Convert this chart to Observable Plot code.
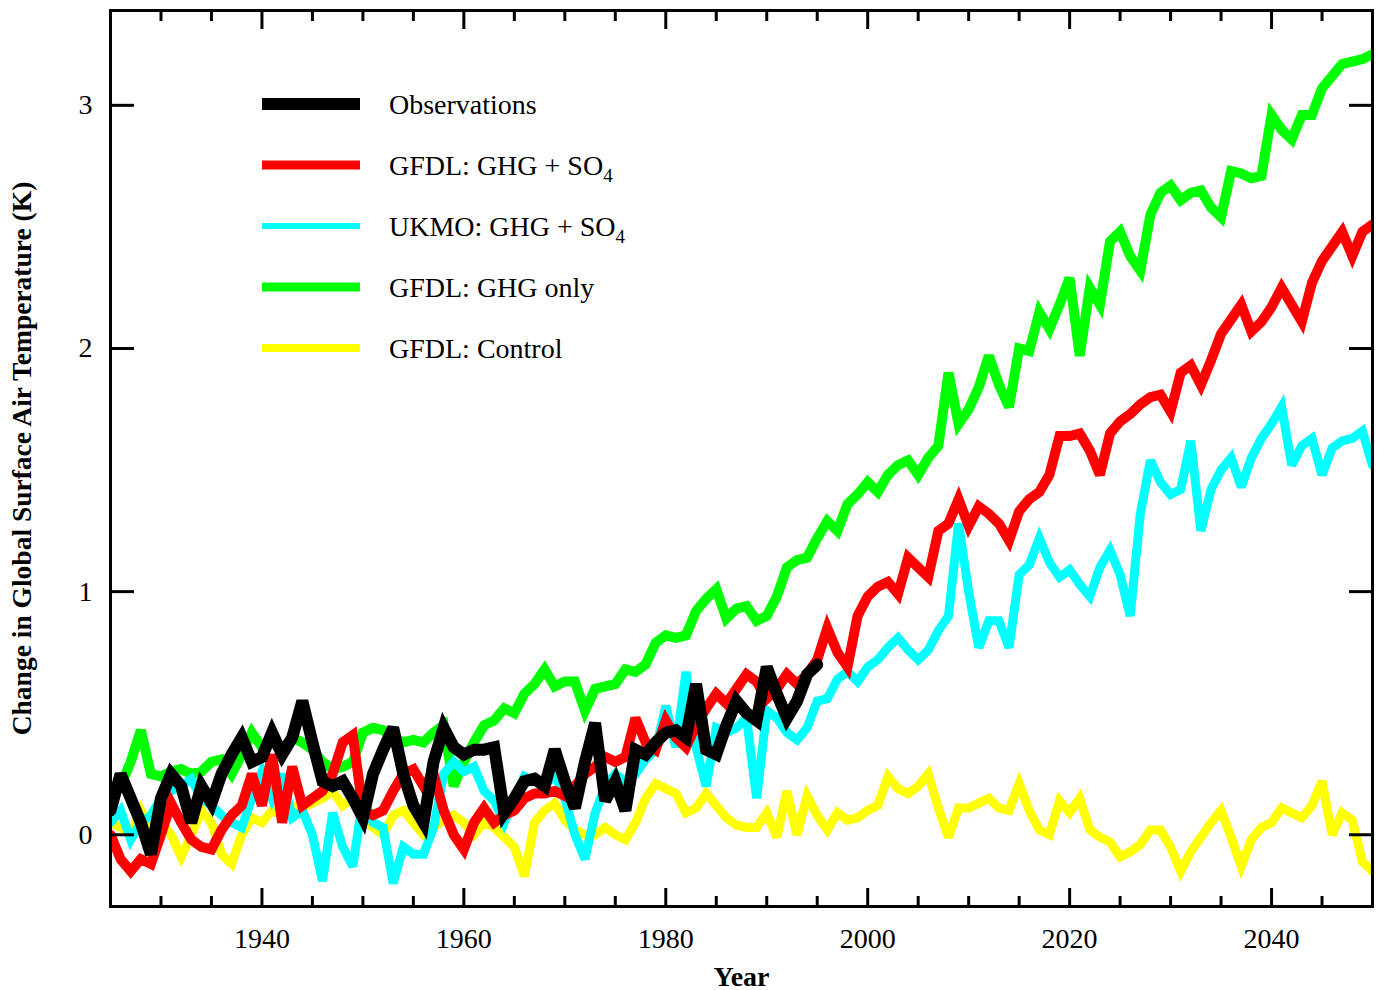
<!DOCTYPE html>
<html>
<head>
<meta charset="utf-8">
<script src="https://cdn.jsdelivr.net/npm/d3@7"></script>
<script src="https://cdn.jsdelivr.net/npm/@observablehq/plot@0.6"></script>
<style>
  html, body { margin: 0; padding: 0; background: #fff; }
</style>
</head>
<body>
<div id="chart"></div>
<script>
// ---------- data ----------
const modelStartYear = 1925;
const obsStartYear = 1925;

const observations = [
  0.10, 0.25, 0.15, 0.05, -0.08, 0.15, 0.25, 0.20, 0.05, 0.20,
  0.13, 0.25, 0.33, 0.40, 0.30, 0.32, 0.42, 0.33, 0.40, 0.55,
  0.38, 0.22, 0.20, 0.22, 0.15, 0.07, 0.25, 0.35, 0.44, 0.25,
  0.12, 0.05, 0.30, 0.44, 0.36, 0.33, 0.35, 0.35, 0.36, 0.09,
  0.15, 0.22, 0.23, 0.20, 0.35, 0.22, 0.11, 0.30, 0.46, 0.14,
  0.22, 0.10, 0.35, 0.33, 0.38, 0.42, 0.43, 0.40, 0.62, 0.35,
  0.33, 0.45, 0.55, 0.50, 0.47, 0.69, 0.58, 0.48, 0.55, 0.66,
  0.70
];

const gfdlGhgOnly = [
  0.15, 0.20, 0.30, 0.43, 0.25, 0.24, 0.26, 0.27, 0.25, 0.26,
  0.30, 0.31, 0.25, 0.33, 0.42, 0.36, 0.38, 0.35, 0.40, 0.38,
  0.35, 0.30, 0.27, 0.28, 0.30, 0.42, 0.44, 0.43, 0.40, 0.38,
  0.39, 0.38, 0.42, 0.45, 0.20, 0.30, 0.38, 0.45, 0.47, 0.52,
  0.50, 0.58, 0.62, 0.68, 0.61, 0.63, 0.63, 0.51, 0.60, 0.61,
  0.62, 0.68, 0.67, 0.70, 0.79, 0.82, 0.81, 0.82, 0.92, 0.97,
  1.01, 0.89, 0.93, 0.94, 0.88, 0.90, 0.98, 1.10, 1.13, 1.14,
  1.22, 1.29, 1.25, 1.36, 1.40, 1.45, 1.41, 1.48, 1.52, 1.54,
  1.48, 1.55, 1.60, 1.90, 1.69, 1.75, 1.84, 1.97, 1.85, 1.76,
  2.00, 1.99, 2.15, 2.08, 2.18, 2.29, 1.97, 2.25, 2.18, 2.44,
  2.48, 2.38, 2.32, 2.55, 2.64, 2.67, 2.61, 2.64, 2.65, 2.58,
  2.54, 2.73, 2.72, 2.70, 2.71, 2.96, 2.90, 2.86, 2.96, 2.96,
  3.07, 3.12, 3.17, 3.18, 3.19, 3.21
];

const gfdlGhgSo4 = [
  0.00, -0.10, -0.15, -0.10, -0.12, 0.00, 0.13, 0.05, -0.02, -0.05,
  -0.06, 0.02, 0.08, 0.12, 0.25, 0.12, 0.33, 0.05, 0.28, 0.12,
  0.15, 0.18, 0.25, 0.38, 0.41, 0.10, 0.08, 0.10, 0.18, 0.25,
  0.27, 0.20, 0.25, 0.10, 0.00, -0.06, 0.05, 0.11, 0.05, 0.08,
  0.10, 0.15, 0.17, 0.17, 0.18, 0.16, 0.20, 0.25, 0.28, 0.32,
  0.30, 0.32, 0.48, 0.38, 0.35, 0.47, 0.40, 0.36, 0.45, 0.52,
  0.58, 0.54, 0.60, 0.66, 0.63, 0.56, 0.60, 0.66, 0.62, 0.66,
  0.72, 0.85, 0.75, 0.69, 0.90, 0.98, 1.02, 1.04, 0.99, 1.14,
  1.10, 1.06, 1.25, 1.28, 1.38, 1.27, 1.35, 1.32, 1.28, 1.21,
  1.33, 1.38, 1.41, 1.48, 1.64, 1.64, 1.65, 1.58, 1.48, 1.65,
  1.70, 1.73, 1.77, 1.80, 1.81, 1.74, 1.90, 1.93, 1.85, 1.95,
  2.06, 2.12, 2.18, 2.07, 2.11, 2.17, 2.25, 2.18, 2.11, 2.27,
  2.36, 2.42, 2.48, 2.38, 2.48, 2.51
];

const ukmoGhgSo4 = [
  0.05, 0.10, -0.02, 0.05, 0.08, 0.15, 0.18, 0.20, 0.23, 0.15,
  0.12, 0.08, 0.05, 0.03, 0.15, 0.26, 0.15, 0.25, 0.07, 0.10,
  0.00, -0.19, 0.09, -0.05, -0.13, 0.15, 0.05, 0.03, -0.20, -0.05,
  -0.08, -0.08, 0.03, 0.25, 0.30, 0.26, 0.28, 0.18, 0.14, 0.05,
  0.15, 0.24, 0.22, 0.20, 0.25, 0.15, 0.00, -0.10, 0.09, 0.20,
  0.25, 0.22, 0.25, 0.31, 0.35, 0.53, 0.36, 0.67, 0.36, 0.20,
  0.44, 0.42, 0.44, 0.48, 0.15, 0.51, 0.48, 0.42, 0.39, 0.44,
  0.55, 0.56, 0.64, 0.67, 0.63, 0.69, 0.72, 0.77, 0.81, 0.76,
  0.72, 0.76, 0.84, 0.90, 1.28, 1.00, 0.77, 0.88, 0.88, 0.77,
  1.07, 1.11, 1.22, 1.12, 1.06, 1.09, 1.03, 0.98, 1.10, 1.17,
  1.07, 0.90, 1.32, 1.54, 1.45, 1.40, 1.42, 1.62, 1.25, 1.42,
  1.50, 1.55, 1.43, 1.55, 1.63, 1.69, 1.76, 1.52, 1.60, 1.63,
  1.48, 1.59, 1.62, 1.63, 1.66, 1.52
];

const gfdlControl = [
  0.05, 0.03, 0.00, 0.10, 0.02, 0.05, 0.00, -0.09, 0.00, 0.10,
  0.05, -0.08, -0.12, 0.00, 0.07, 0.05, 0.10, 0.08, 0.12, 0.11,
  0.13, 0.15, 0.18, 0.12, 0.15, 0.06, 0.03, 0.00, 0.08, 0.10,
  0.05, 0.00, 0.03, 0.06, 0.08, 0.05, 0.00, 0.05, 0.03, -0.01,
  -0.05, -0.17, 0.05, 0.10, 0.13, 0.06, 0.02, 0.00, 0.00, 0.03,
  0.00, -0.02, 0.05, 0.15, 0.21, 0.19, 0.17, 0.09, 0.11, 0.17,
  0.12, 0.07, 0.04, 0.03, 0.03, 0.09, -0.01, 0.18, 0.00, 0.16,
  0.08, 0.02, 0.09, 0.06, 0.07, 0.10, 0.12, 0.24, 0.19, 0.17,
  0.20, 0.25, 0.11, -0.01, 0.11, 0.11, 0.13, 0.15, 0.11, 0.10,
  0.21, 0.10, 0.02, 0.00, 0.14, 0.09, 0.15, 0.02, -0.01, -0.03,
  -0.09, -0.07, -0.04, 0.02, 0.02, -0.05, -0.15, -0.07, -0.01, 0.05,
  0.10, -0.01, -0.13, -0.02, 0.03, 0.05, 0.11, 0.09, 0.07, 0.12,
  0.22, 0.00, 0.09, 0.06, -0.11, -0.15
];

const majorYears = [1940, 1960, 1980, 2000, 2020, 2040];
const minorYears = [1930, 1935, 1945, 1950, 1955, 1965, 1970, 1975, 1985, 1990, 1995,
                    2005, 2010, 2015, 2025, 2030, 2035, 2045];
const yTicks = [0, 1, 2, 3];

const xLabel = "Year";
const yLabel = "Change in Global Surface Air Temperature (K)";

// draw order: bottom first
const series = [
  {name: "GFDL: Control",  sub: "",  color: "#ffff00", width: 9,  legendWidth: 8,  values: gfdlControl,  start: modelStartYear, legendIndex: 4},
  {name: "GFDL: GHG only", sub: "",  color: "#00ff00", width: 10, legendWidth: 9,  values: gfdlGhgOnly,  start: modelStartYear, legendIndex: 3},
  {name: "UKMO: GHG + SO", sub: "4", color: "#00ffff", width: 9,  legendWidth: 6,  values: ukmoGhgSo4,   start: modelStartYear, legendIndex: 2},
  {name: "GFDL: GHG + SO", sub: "4", color: "#ff0000", width: 10, legendWidth: 9,  values: gfdlGhgSo4,   start: modelStartYear, legendIndex: 1},
  {name: "Observations",   sub: "",  color: "#000000", width: 12, legendWidth: 12, values: observations, start: obsStartYear,   legendIndex: 0}
];

const toRows = s => s.values.map((v, i) => ({year: s.start + i, value: v}));

const font = "'Liberation Serif', 'Times New Roman', Times, serif";

const tickAxis = (mk, anchor, ticks, size) =>
  mk({anchor, ticks, tickSize: size, strokeWidth: 3, fill: "none", tickFormat: () => "", label: null});

const chart = Plot.plot({
  width: 1380,
  height: 990,
  marginLeft: 110,
  marginRight: 8,
  marginTop: 10,
  marginBottom: 84,
  style: {fontFamily: font, fontSize: "28px", background: "#fff", color: "#000", overflow: "visible"},
  x: {domain: [1925, 2050]},
  y: {domain: [-0.295, 3.39]},
  marks: [
    ...series.map(s => Plot.line(toRows(s), {
      x: "year", y: "value", stroke: s.color, strokeWidth: s.width,
      strokeLinejoin: "miter", strokeMiterlimit: 3, clip: true
    })),
    Plot.frame({stroke: "#000", strokeWidth: 3}),
    tickAxis(Plot.axisX, "bottom", minorYears, -10),
    tickAxis(Plot.axisX, "bottom", majorYears, -18),
    tickAxis(Plot.axisX, "top", minorYears, -10),
    tickAxis(Plot.axisX, "top", majorYears, -18),
    tickAxis(Plot.axisY, "left", yTicks, -24),
    tickAxis(Plot.axisY, "right", yTicks, -24),
    Plot.axisX({anchor: "bottom", ticks: majorYears, tickSize: 0, tickPadding: 22,
                tickFormat: d => String(d), label: null, fontSize: 28}),
    Plot.axisY({anchor: "left", ticks: yTicks, tickSize: 0, tickPadding: 18,
                tickFormat: d => String(d), label: null, fontSize: 28}),
    Plot.text([xLabel], {frameAnchor: "bottom", dy: 79, lineAnchor: "bottom",
                         textAnchor: "middle", fontWeight: "bold", fontSize: 28}),
    Plot.text([yLabel], {frameAnchor: "left", dx: -88, rotate: -90, textAnchor: "middle",
                         lineAnchor: "middle", fontWeight: "bold", fontSize: 27.5})
  ]
});

// legend inside the plot area
const svg = d3.select(chart);
const lg = svg.append("g")
  .attr("font-family", font).attr("font-size", 28).attr("fill", "#000")
  .attr("text-anchor", "start");
const legendOrder = series.slice().sort((a, b) => a.legendIndex - b.legendIndex);
legendOrder.forEach((s, i) => {
  const yy = 104 + i * 61;
  lg.append("line")
    .attr("x1", 262).attr("x2", 360).attr("y1", yy).attr("y2", yy)
    .attr("stroke", s.color).attr("stroke-width", s.legendWidth);
  const t = lg.append("text").attr("x", 389).attr("y", yy + 10).attr("text-anchor", "start");
  t.append("tspan").text(s.name);
  if (s.sub) t.append("tspan").attr("dy", 7).attr("font-size", 19).text(s.sub);
});

document.getElementById("chart").appendChild(chart);
</script>
</body>
</html>
